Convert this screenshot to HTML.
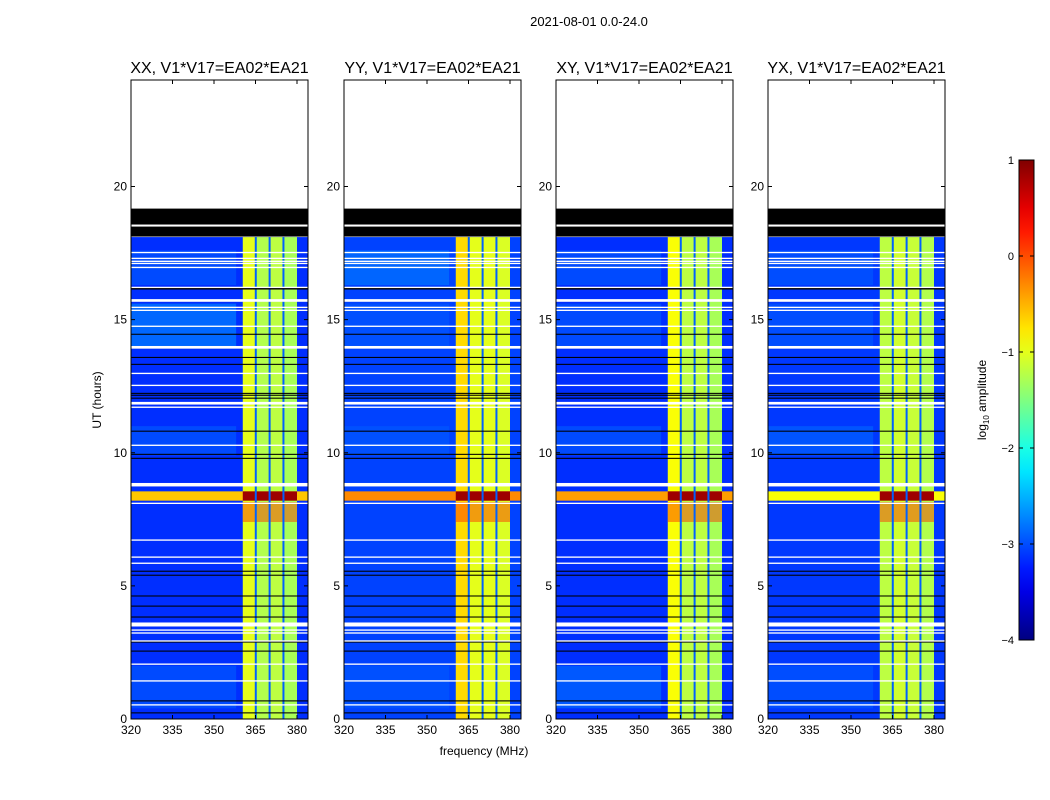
<!DOCTYPE html>
<html><head><meta charset="utf-8"><style>
body{margin:0;background:#fff;}
svg{display:block;font-family:"Liberation Sans",sans-serif;}
</style></head><body>
<svg id="fig" width="1050" height="800" xmlns="http://www.w3.org/2000/svg">
<text x="589" y="26" font-size="13" text-anchor="middle">2021-08-01 0.0-24.0</text>
<text x="484" y="755" font-size="12" text-anchor="middle">frequency (MHz)</text>
<text transform="translate(101,400) rotate(-90)" font-size="12" text-anchor="middle">UT (hours)</text>
</svg>
<script>
// ---- data ----
const panelTitles = ["XX, V1*V17=EA02*EA21","YY, V1*V17=EA02*EA21","XY, V1*V17=EA02*EA21","YX, V1*V17=EA02*EA21"];
const xTicks = [320,335,350,365,380];
const yTicks = [0,5,10,15,20];
const cbTicks = [1,0,-1,-2,-3,-4];
const dataTopHour = 18.1;
const backgroundLevel = [-3.15,-3.05,-3.15,-3.1];
const lightStart = [14.0,16.3,0.4,9.9];
const lightEnd = [15.6,17.6,2.0,11.0];
const lightLevel = [-2.75,-2.8,-2.85,-2.9];
const subbandStart = [360.4,365.2,370.2,375.2];
const subbandEnd = [365.0,370.0,375.0,380.0];
const subbandLevel = [[-1.0,-1.25,-1.2,-1.3],[-0.7,-1.0,-1.0,-1.05],[-0.9,-1.2,-1.2,-1.3],[-1.2,-1.1,-1.15,-1.25]];
const burstStart = 8.2, burstEnd = 8.55;
const burstLevelWide = [-0.6,-0.3,-0.4,-0.9];
const burstLevelRfi = 0.85;
const whiteHour = [18.53,17.52,17.30,17.19,17.11,16.96,16.21,15.72,15.46,15.35,14.75,13.96,12.98,12.53,11.86,11.71,10.28,8.80,8.10,6.72,6.08,5.85,3.55,3.34,3.23,2.93,2.06,1.43,0.53];
const whiteWidth = [0.07,0.05,0.05,0.05,0.05,0.05,0.05,0.1,0.05,0.05,0.05,0.1,0.05,0.05,0.1,0.05,0.05,0.13,0.05,0.05,0.05,0.05,0.15,0.05,0.05,0.05,0.05,0.05,0.05];
const blackStart = [18.57,18.12,16.13,14.43,13.56,13.30,12.21,12.14,12.03,10.79,9.92,9.77,5.53,5.38,4.60,4.22,3.81,2.87,2.53,0.66,0.21];
const blackEnd = [19.17,18.50,16.21,14.47,13.60,13.34,12.25,12.18,12.07,10.83,9.96,9.81,5.57,5.42,4.64,4.26,3.85,2.91,2.57,0.70,0.25];

// ---- helpers ----
const svg = document.getElementById('fig');
const NS = "http://www.w3.org/2000/svg";
function jet(v){
  const t = Math.max(0,Math.min(1,(v+4)/5));
  const c = x=>Math.round(255*Math.max(0,Math.min(1,1.5-Math.abs(x))));
  return `rgb(${c(4*t-3)},${c(4*t-2)},${c(4*t-1)})`;
}
function mk(tag, attrs, parent){
  const e = document.createElementNS(NS, tag);
  for (const k in attrs) e.setAttribute(k, attrs[k]);
  (parent||svg).appendChild(e);
  return e;
}
const panelLeft = [131,344,556,768];
const PW = 177, TOP = 80, BOT = 719;
const fMin = 320, pxPerMHz = 166/60;
const yOf = h => BOT - (h/24)*(BOT-TOP);

for (let p=0;p<4;p++){
  const L = panelLeft[p];
  const xOf = f => L + (f-fMin)*pxPerMHz;
  const g = mk('g',{});
  
  
  let r = mk('rect',{x:L,y:yOf(dataTopHour),width:PW,height:yOf(0)-yOf(dataTopHour),fill:jet(backgroundLevel[p])},g);
  
  
  for (let i=0;i<lightStart.length;i++){
    const lv = i===p%lightStart.length ? lightLevel[p] : -2.95;
    r = mk('rect',{x:L,y:yOf(lightEnd[i]),width:xOf(358)-L,height:yOf(lightStart[i])-yOf(lightEnd[i]),fill:jet(lv),opacity:0.7},g);
    
    
  }
  for (let s=0;s<subbandStart.length;s++){
    r = mk('rect',{x:xOf(subbandStart[s]),y:yOf(dataTopHour),width:(subbandEnd[s]-subbandStart[s])*pxPerMHz,height:yOf(0)-yOf(dataTopHour),fill:jet(subbandLevel[p][s])},g);
    
    
  }
  r = mk('rect',{x:L,y:yOf(burstEnd),width:PW,height:yOf(burstStart)-yOf(burstEnd),fill:jet(burstLevelWide[p])},g);
  
  
  for (let s=0;s<subbandStart.length;s++){
    r = mk('rect',{x:xOf(subbandStart[s]),y:yOf(burstEnd),width:(subbandEnd[s]-subbandStart[s])*pxPerMHz,height:yOf(burstStart)-yOf(burstEnd),fill:jet(burstLevelRfi)},g);
    
    
    r = mk('rect',{x:xOf(subbandStart[s]),y:yOf(burstStart-0.05),width:(subbandEnd[s]-subbandStart[s])*pxPerMHz,height:yOf(7.4)-yOf(burstStart-0.05),fill:jet(0.2),opacity:0.45},g);
    
    
  }
  // gaps between subbands
  for (let s=1;s<subbandStart.length;s++){
    const x = xOf((subbandEnd[s-1]+subbandStart[s])/2);
    r = mk('rect',{x:x-1,y:yOf(dataTopHour),width:2,height:yOf(0)-yOf(dataTopHour),fill:jet(-2.9)},g);
    
    
  }
  for (let i=0;i<blackStart.length;i++){
    r = mk('rect',{x:L,y:yOf(blackEnd[i]),width:PW,height:Math.max(1,yOf(blackStart[i])-yOf(blackEnd[i])),fill:'#000'},g);
    
    
  }
  for (let i=0;i<whiteHour.length;i++){
    r = mk('rect',{x:L,y:yOf(whiteHour[i]+whiteWidth[i]/2),width:PW,height:Math.max(1.3,whiteWidth[i]*26.65),fill:'#fff'},g);
    
    
  }
  r = mk('rect',{x:L,y:TOP,width:PW,height:BOT-TOP,fill:'none',stroke:'#000','stroke-width':1},g);
  
  
  let t = mk('text',{x:L+PW/2,y:73,'font-size':16,'text-anchor':'middle'},g);
  t.textContent = panelTitles[p];
  
  
  xTicks.forEach(v=>{
    const x = xOf(v);
    mk('line',{x1:x,x2:x,y1:BOT,y2:BOT-4,stroke:'#000'},g);
    mk('line',{x1:x,x2:x,y1:TOP,y2:TOP+4,stroke:'#000'},g);
    const tt = mk('text',{x:x,y:BOT+15,'font-size':12,'text-anchor':'middle'},g);
    tt.textContent = v;
    
    
  });
  yTicks.forEach(v=>{
    const y = yOf(v);
    mk('line',{x1:L,x2:L+4,y1:y,y2:y,stroke:'#000'},g);
    mk('line',{x1:L+PW,x2:L+PW-4,y1:y,y2:y,stroke:'#000'},g);
    const tt = mk('text',{x:L-4,y:y+4,'font-size':12,'text-anchor':'end'},g);
    tt.textContent = v;
    
    
  });
}
const defs = mk('defs',{});
const lg = mk('linearGradient',{id:'jetg',x1:0,y1:1,x2:0,y2:0},defs);
for (let i=0;i<=20;i++){ mk('stop',{offset:i/20,'stop-color':jet(-4+5*i/20)},lg); }
const CBT=160, CBB=640;
let cb = mk('rect',{x:1019,y:CBT,width:15,height:CBB-CBT,fill:'url(#jetg)',stroke:'#000'});


cbTicks.forEach(v=>{
  const y = CBB - (v+4)/5*(CBB-CBT);
  mk('line',{x1:1019,x2:1023,y1:y,y2:y,stroke:'#000'});
  mk('line',{x1:1034,x2:1030,y1:y,y2:y,stroke:'#000'});
  const tt = mk('text',{x:1014,y:y+4,'font-size':11,'text-anchor':'end'});
  tt.textContent = v<0 ? '\u2212'+(-v) : v;
  
  
});
const cl = mk('text',{transform:'translate(986,400) rotate(-90)','font-size':12,'text-anchor':'middle'});
cl.innerHTML = 'log<tspan font-size="8" dy="3">10</tspan><tspan dy="-3"> amplitude</tspan>';


</script>
</body></html>
